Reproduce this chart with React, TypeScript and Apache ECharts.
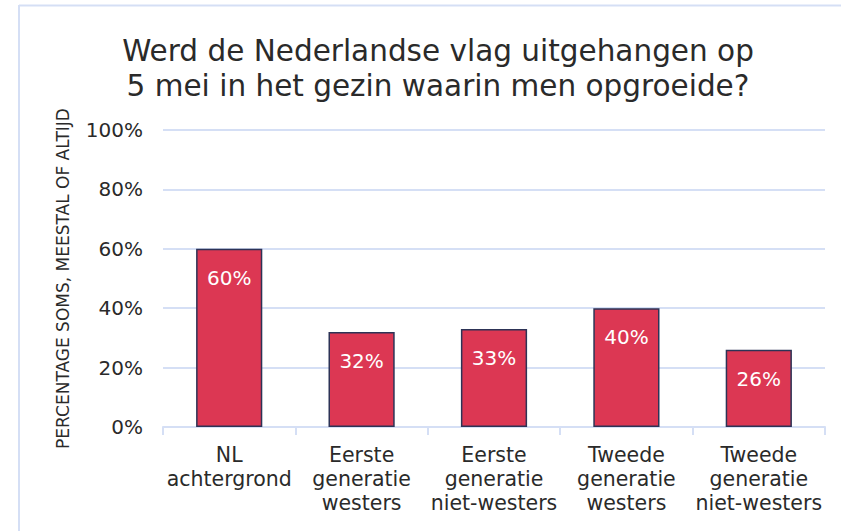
import React, { useEffect, useRef } from "react";
import * as echarts from "echarts";

const categories = [
  "NL\nachtergrond",
  "Eerste\ngeneratie\nwesters",
  "Eerste\ngeneratie\nniet-westers",
  "Tweede\ngeneratie\nwesters",
  "Tweede\ngeneratie\nniet-westers",
];
const values = [60, 32, 33, 40, 26];
const titleText = "Werd de Nederlandse vlag uitgehangen op\n5 mei in het gezin waarin men opgroeide?";
const yAxisName = "PERCENTAGE SOMS, MEESTAL OF ALTIJD";

const FONT = "'DejaVu Sans', sans-serif";

export default function App() {
  const ref = useRef<HTMLDivElement>(null);
  useEffect(() => {
    if (!ref.current) return;
    const chart = echarts.init(ref.current, null, { renderer: "svg" });
    chart.setOption({
      animation: false,
      backgroundColor: "#ffffff",
      title: {
        text: titleText,
        left: 433,
        top: 28,
        textAlign: "center",
        textStyle: {
          fontFamily: FONT,
          fontSize: 29.5,
          fontWeight: "normal",
          color: "#2a2a2a",
          lineHeight: 35,
        },
      },
      graphic: [
        {
          type: "line",
          shape: { x1: 19, y1: 5.5, x2: 841, y2: 5.5 },
          style: { stroke: "#d5dff5", lineWidth: 2 },
        },
        {
          type: "line",
          shape: { x1: 19, y1: 5, x2: 19, y2: 531 },
          style: { stroke: "#d5dff5", lineWidth: 2 },
        },
      ],
      grid: { left: 163, right: 16, top: 130, bottom: 104 },
      xAxis: {
        type: "category",
        data: categories,
        axisLine: { lineStyle: { color: "#d5dff5", width: 2 } },
        axisTick: { show: true, length: 8, lineStyle: { color: "#d5dff5", width: 2 } },
        axisLabel: {
          fontFamily: FONT,
          fontSize: 20.5,
          color: "#2a2a2a",
          lineHeight: 24,
          margin: 16,
          interval: 0,
        },
      },
      yAxis: {
        type: "value",
        min: 0,
        max: 100,
        interval: 20,
        name: yAxisName,
        nameLocation: "middle",
        nameGap: 92,
        nameTextStyle: { fontFamily: FONT, fontSize: 17, color: "#2a2a2a" },
        axisLine: { show: false },
        axisTick: { show: false },
        axisLabel: {
          formatter: "{value}%",
          fontFamily: FONT,
          fontSize: 20,
          color: "#2a2a2a",
          margin: 20,
        },
        splitLine: { lineStyle: { color: "#d5dff5", width: 2 } },
      },
      series: [
        {
          type: "bar",
          data: values,
          barWidth: "50%",
          itemStyle: { color: "#dc3753", borderColor: "#2d3356", borderWidth: 1.5 },
          label: {
            show: true,
            position: "insideTop",
            distance: 19,
            formatter: "{c}%",
            fontFamily: FONT,
            fontSize: 20,
            color: "#ffffff",
          },
        },
      ],
    });
    return () => chart.dispose();
  }, []);
  return (
    <div
      ref={ref}
      style={{ position: "fixed", left: 0, top: 0, width: 841, height: 531 }}
    />
  );
}
